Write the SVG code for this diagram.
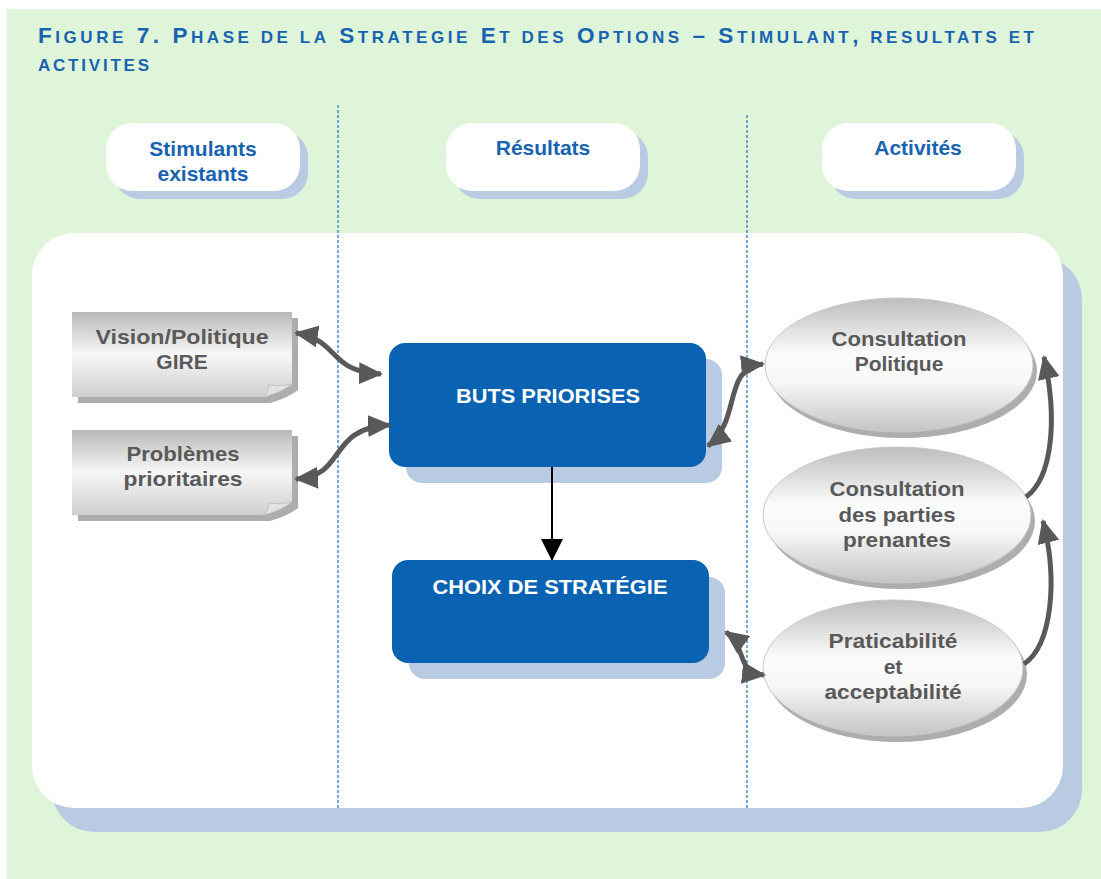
<svg xmlns="http://www.w3.org/2000/svg" width="1101" height="879" viewBox="0 0 1101 879">
<defs>
<style>
.title{font-family:"Liberation Sans",Arial,sans-serif;font-weight:bold;fill:#1763b1;letter-spacing:1px}
.hdr{font-family:"Liberation Sans",Arial,sans-serif;font-weight:bold;font-size:21px;fill:#1763b1;text-anchor:middle}
.gtx{font-family:"Liberation Sans",Arial,sans-serif;font-weight:bold;font-size:21px;fill:#595959;text-anchor:middle}
.wtx{font-family:"Liberation Sans",Arial,sans-serif;font-weight:bold;font-size:21px;fill:#ffffff;text-anchor:middle}
.pill{fill:#ffffff}
.pillsh{fill:#b8cbe3}
.blue{fill:#0a62b3}
.bluesh{fill:#b8cbe3}
.dash{stroke:#1f6fc0;stroke-width:1.2;stroke-dasharray:3,2;fill:none}
.conn{stroke:#595959;stroke-width:5;fill:none}
</style>
<linearGradient id="gDoc" x1="0" y1="0" x2="0" y2="1">
<stop offset="0" stop-color="#b9b9b9"/>
<stop offset="0.5" stop-color="#f7f7f7"/>
<stop offset="1" stop-color="#cfcfcf"/>
</linearGradient>
<linearGradient id="gEll" x1="0" y1="0" x2="0" y2="1">
<stop offset="0" stop-color="#bdbdbd"/>
<stop offset="0.42" stop-color="#fbfbfb"/>
<stop offset="0.62" stop-color="#f8f8f8"/>
<stop offset="1" stop-color="#c4c4c4"/>
</linearGradient>
<marker id="ah" markerUnits="userSpaceOnUse" markerWidth="24" markerHeight="22" viewBox="0 0 24 22" refX="22" refY="11" orient="auto-start-reverse">
<path d="M0,0 L24,11 L0,22 Z" fill="#595959"/>
</marker>
<marker id="ahb" markerUnits="userSpaceOnUse" markerWidth="22" markerHeight="22" viewBox="0 0 22 22" refX="21" refY="11" orient="auto">
<path d="M0,0 L22,11 L0,22 Z" fill="#000000"/>
</marker>
</defs>

<rect x="7" y="9" width="1094" height="870" fill="#dff5d9"/>

<g id="title">
<text class="title" x="38" y="43" textLength="997" lengthAdjust="spacing"><tspan font-size="22.5">F</tspan><tspan font-size="17">IGURE</tspan><tspan font-size="22.5"> 7. P</tspan><tspan font-size="17">HASE DE LA</tspan><tspan font-size="22.5"> S</tspan><tspan font-size="17">TRATEGIE</tspan><tspan font-size="22.5"> E</tspan><tspan font-size="17">T DES</tspan><tspan font-size="22.5"> O</tspan><tspan font-size="17">PTIONS</tspan><tspan font-size="22.5"> – S</tspan><tspan font-size="17">TIMULANT</tspan><tspan font-size="22.5">,</tspan><tspan font-size="17"> RESULTATS ET</tspan></text>
<text class="title" x="38" y="71" font-size="17" textLength="112" lengthAdjust="spacing">ACTIVITES</text>
</g>

<g id="header-stimulants">
<rect class="pillsh" x="114" y="131" width="194" height="68" rx="26"/>
<rect class="pill" x="106" y="123" width="194" height="68" rx="26"/>
<text class="hdr" x="203" y="156">Stimulants</text>
<text class="hdr" x="203" y="181">existants</text>
</g>
<g id="header-resultats">
<rect class="pillsh" x="454" y="131" width="194" height="68" rx="26"/>
<rect class="pill" x="446" y="123" width="194" height="68" rx="26"/>
<text class="hdr" x="543" y="155">Résultats</text>
</g>
<g id="header-activites">
<rect class="pillsh" x="830" y="131" width="194" height="68" rx="26"/>
<rect class="pill" x="822" y="123" width="194" height="68" rx="26"/>
<text class="hdr" x="918" y="155">Activités</text>
</g>

<g id="panel">
<rect x="52" y="257" width="1030" height="575" rx="42" fill="#b8cbe3"/>
<rect x="32" y="233" width="1031" height="575" rx="42" fill="#ffffff"/>
</g>

<g id="dividers">
<line class="dash" x1="338" y1="105" x2="338" y2="808"/>
<line class="dash" x1="747" y1="115" x2="747" y2="808"/>
</g>

<g id="doc-vision">
<path d="M78,318 H298 V390 Q288,398 270,403 H78 Z" fill="#adadad"/>
<path d="M72,312 H292 V384 Q282,392 264,397 H72 Z" fill="url(#gDoc)"/>
<path d="M264,397 Q270,390 268,385 Q280,387 292,384 Q282,392 264,397 Z" fill="#e2e2e2" stroke="#bdbdbd" stroke-width="0.8"/>
<text class="gtx" x="182" y="344" textLength="173" lengthAdjust="spacingAndGlyphs">Vision/Politique</text>
<text class="gtx" x="182" y="369">GIRE</text>
</g>

<g id="doc-problemes">
<path d="M78,436 H298 V508 Q288,516 270,521 H78 Z" fill="#adadad"/>
<path d="M72,430 H292 V502 Q282,510 264,515 H72 Z" fill="url(#gDoc)"/>
<path d="M264,515 Q270,508 268,503 Q280,505 292,502 Q282,510 264,515 Z" fill="#e2e2e2" stroke="#bdbdbd" stroke-width="0.8"/>
<text class="gtx" x="183" y="461" textLength="113" lengthAdjust="spacingAndGlyphs">Problèmes</text>
<text class="gtx" x="183" y="486" textLength="119" lengthAdjust="spacingAndGlyphs">prioritaires</text>
</g>

<g id="buts">
<rect class="bluesh" x="406" y="359" width="316" height="124" rx="16"/>
<rect class="blue" x="389" y="343" width="317" height="124" rx="16"/>
<text class="wtx" x="548" y="403" textLength="184" lengthAdjust="spacingAndGlyphs">BUTS PRIORISES</text>
</g>

<g id="choix">
<rect class="bluesh" x="409" y="577" width="316" height="102" rx="16"/>
<rect class="blue" x="392" y="560" width="317" height="103" rx="16"/>
<text class="wtx" x="550" y="594" textLength="235" lengthAdjust="spacingAndGlyphs">CHOIX DE STRATÉGIE</text>
</g>

<g id="consult-politique">
<ellipse cx="903" cy="371" rx="134" ry="67" fill="#adadad"/>
<ellipse cx="899" cy="365" rx="134" ry="67" fill="url(#gEll)" stroke="#c8c8c8" stroke-width="1"/>
<text class="gtx" x="899" y="346" textLength="135" lengthAdjust="spacingAndGlyphs">Consultation</text>
<text class="gtx" x="899" y="371">Politique</text>
</g>

<g id="consult-parties">
<ellipse cx="901" cy="521" rx="134" ry="68" fill="#adadad"/>
<ellipse cx="897" cy="515" rx="134" ry="68" fill="url(#gEll)" stroke="#c8c8c8" stroke-width="1"/>
<text class="gtx" x="897" y="496" textLength="135" lengthAdjust="spacingAndGlyphs">Consultation</text>
<text class="gtx" x="897" y="522" textLength="117" lengthAdjust="spacingAndGlyphs">des parties</text>
<text class="gtx" x="897" y="547" textLength="108" lengthAdjust="spacingAndGlyphs">prenantes</text>
</g>

<g id="praticabilite">
<ellipse cx="897" cy="674" rx="130" ry="68" fill="#adadad"/>
<ellipse cx="893" cy="668" rx="130" ry="68" fill="url(#gEll)" stroke="#c8c8c8" stroke-width="1"/>
<text class="gtx" x="893" y="648" textLength="129" lengthAdjust="spacingAndGlyphs">Praticabilité</text>
<text class="gtx" x="893" y="674">et</text>
<text class="gtx" x="893" y="699" textLength="137" lengthAdjust="spacingAndGlyphs">acceptabilité</text>
</g>

<g id="connectors">
<path class="conn" d="M296,333 C340,340 328,372 381,374" marker-start="url(#ah)" marker-end="url(#ah)"/>
<path class="conn" d="M296,479 C348,476 326,428 390,425" marker-start="url(#ah)" marker-end="url(#ah)"/>
<path class="conn" d="M708,446 C742,420 722,368 763,364" marker-start="url(#ah)" marker-end="url(#ah)"/>
<path class="conn" d="M726,632 C748,648 735,672 764,675" marker-start="url(#ah)" marker-end="url(#ah)"/>
<path class="conn" d="M1026,497 C1052,478 1058,420 1044,357" marker-end="url(#ah)"/>
<path class="conn" d="M1024,664 C1052,645 1058,580 1043,521" marker-end="url(#ah)"/>
<line x1="552" y1="467" x2="552" y2="560" stroke="#000000" stroke-width="2" marker-end="url(#ahb)"/>
</g>
</svg>
